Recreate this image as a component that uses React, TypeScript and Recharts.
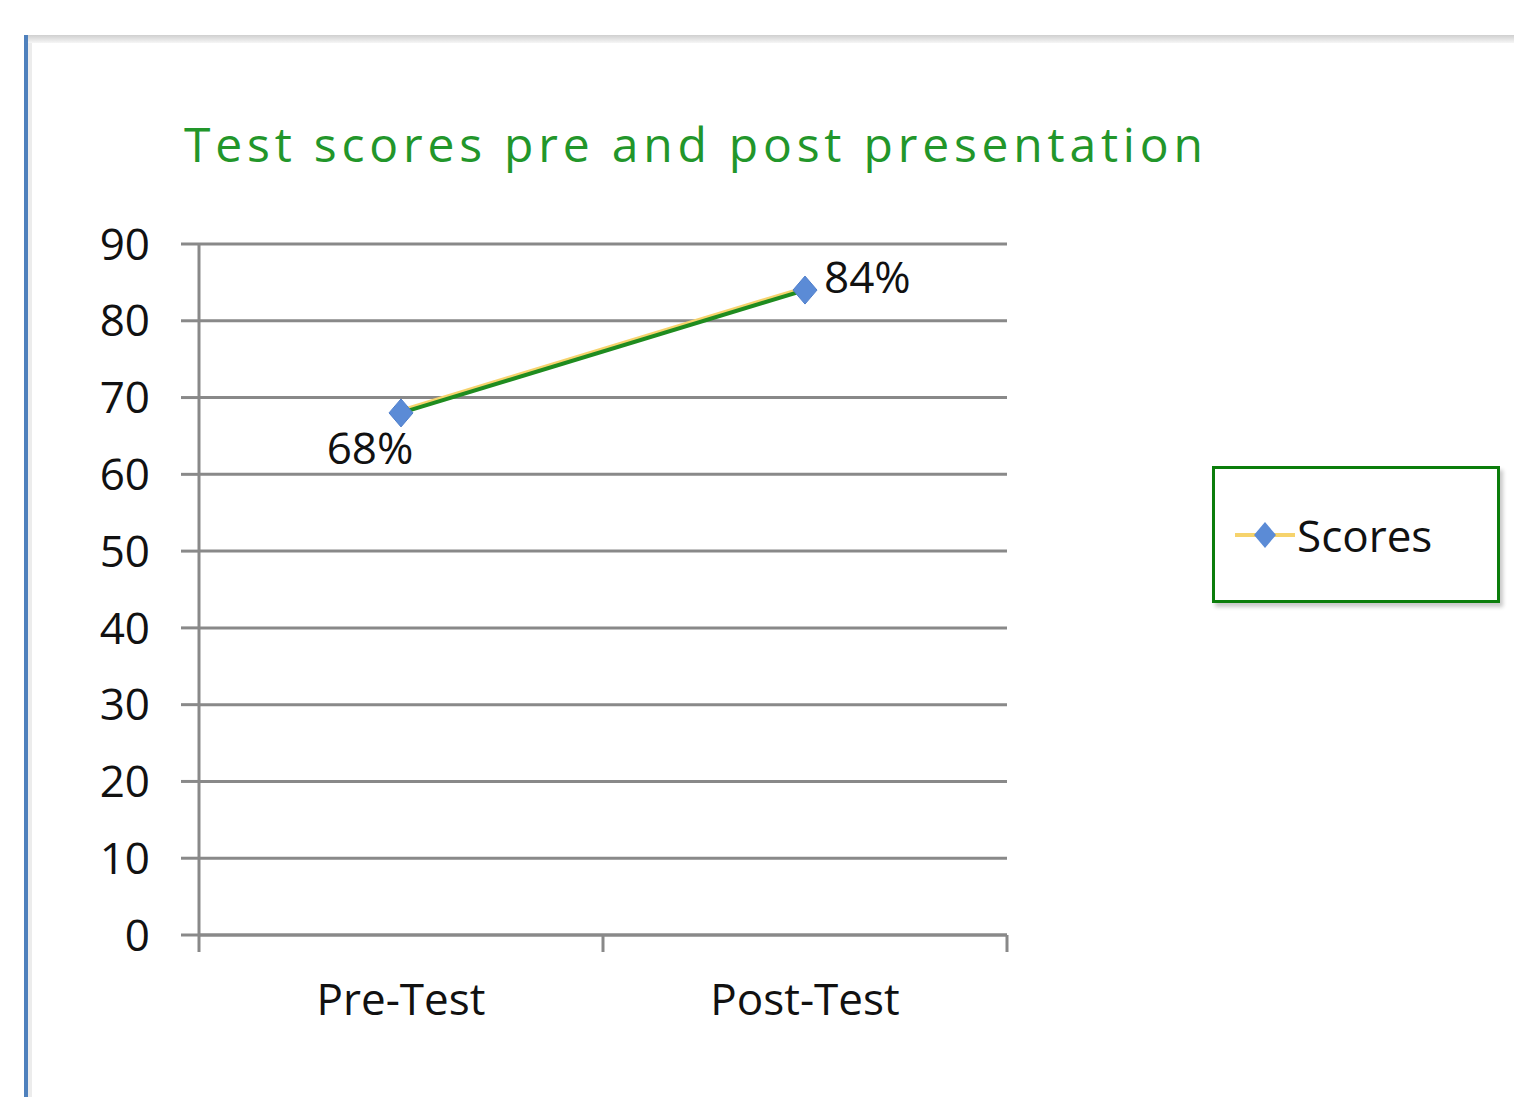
import * as React from 'react';
import { LineChart, Line, XAxis, YAxis, CartesianGrid, Legend } from 'recharts';

const categories = ['Pre-Test', 'Post-Test'];
const scores = [68, 84];
const yTicks = [0, 10, 20, 30, 40, 50, 60, 70, 80, 90];
const seriesName = 'Scores';
const title = 'Test scores pre and post presentation';

const data = categories.map((test, i) => ({ test, score: scores[i] }));

const FONT = '"Open Sans", "Noto Sans", sans-serif';
const GRID = '#898989';
const GREEN = '#1f8c1f';
const BLUE = '#5b8bd6';
const YELLOW = '#f6d36c';

function Diamond(props: any) {
  const { cx, cy } = props;
  if (cx == null || cy == null) return null;
  return (
    <polygon
      points={`${cx},${cy - 14} ${cx + 12},${cy} ${cx},${cy + 14} ${cx - 12},${cy}`}
      fill={BLUE}
      stroke="#4f7fcc"
      strokeWidth={1}
    />
  );
}

function ScoreLabel(props: any) {
  const { x, y, value, index } = props;
  const first = index === 0;
  return (
    <text
      x={first ? x - 31 : x + 19}
      y={first ? y + 51 : y + 3}
      textAnchor={first ? 'middle' : 'start'}
      fontSize={44}
      fontFamily={FONT}
      fill="#111"
    >
      {value}%
    </text>
  );
}

function XTick(props: any) {
  const { x, y, payload, index, visibleTicksCount } = props;
  const half = payload.offset || 0;
  const last = index === (visibleTicksCount ?? categories.length) - 1;
  return (
    <g>
      <line x1={x - half} x2={x - half} y1={y} y2={y + 17} stroke={GRID} strokeWidth={3} />
      {last && <line x1={x + half} x2={x + half} y1={y} y2={y + 17} stroke={GRID} strokeWidth={3} />}
      <text x={x} y={y + 80} textAnchor="middle" fontSize={44} fontFamily={FONT} fill="#111">
        {payload.value}
      </text>
    </g>
  );
}

function LegendBox() {
  return (
    <div
      style={{
        width: 282,
        height: 131,
        border: '3px solid #0b7d0b',
        background: '#fff',
        boxShadow: '3px 4px 4px #c8c8c8',
        display: 'flex',
        alignItems: 'center',
        boxSizing: 'content-box',
      }}
    >
      <svg width={64} height={40} style={{ marginLeft: 18 }}>
        <line x1={2} x2={62} y1={20} y2={20} stroke={YELLOW} strokeWidth={4} />
        <polygon points="32,7 43,20 32,33 21,20" fill={BLUE} />
      </svg>
      <span style={{ fontFamily: FONT, fontSize: 44, color: '#111', lineHeight: 1 }}>{seriesName}</span>
    </div>
  );
}

export default function App() {
  return (
    <div style={{ position: 'absolute', left: 0, top: 0, width: 1514, height: 1097, background: '#fff', overflow: 'hidden' }}>
      <style>{`.recharts-line-curve { filter: drop-shadow(-1px -2px 0 ${YELLOW}); }`}</style>
      <div style={{ position: 'absolute', left: 24, top: 35, right: 0, height: 8, background: 'linear-gradient(#cfcfcf, #f6f6f6)' }} />
      <div style={{ position: 'absolute', left: 24, top: 35, width: 4, bottom: 0, background: '#4f81bd' }} />
      <div style={{ position: 'absolute', left: 28, top: 43, width: 4, bottom: 0, background: '#ececec' }} />
      <div
        style={{
          position: 'absolute',
          left: 184,
          top: 115,
          fontFamily: FONT,
          fontSize: 48,
          letterSpacing: 4.8,
          color: '#22962a',
          whiteSpace: 'nowrap',
          lineHeight: 1.2,
        }}
      >
        {title}
      </div>
      <LineChart
        width={1514}
        height={1097}
        data={data}
        margin={{ top: 244, right: 507, bottom: 62, left: 119 }}
        style={{ position: 'absolute', left: 0, top: 0 }}
      >
        <CartesianGrid vertical={false} stroke={GRID} strokeWidth={3} />
        <XAxis
          dataKey="test"
          scale="band"
          height={100}
          axisLine={{ stroke: GRID, strokeWidth: 3 }}
          tickLine={false}
          tickSize={0}
          tickMargin={0}
          tick={<XTick />}
          interval={0}
        />
        <YAxis
          width={80}
          domain={[0, 90]}
          ticks={yTicks}
          interval={0}
          axisLine={{ stroke: GRID, strokeWidth: 3 }}
          tickLine={{ stroke: GRID, strokeWidth: 3 }}
          tickSize={18}
          tickMargin={31}
          tick={{ fontSize: 44, fontFamily: FONT, fill: '#111' }}
        />
        <Legend
          layout="vertical"
          align="center"
          verticalAlign="middle"
          content={() => <LegendBox />}
          wrapperStyle={{ left: 1212, top: 466, width: 288, height: 137 }}
        />
        <Line
          type="linear"
          dataKey="score"
          name={seriesName}
          stroke={GREEN}
          strokeWidth={4}
          dot={<Diamond />}
          activeDot={false}
          label={<ScoreLabel />}
          isAnimationActive={false}
        />
      </LineChart>
    </div>
  );
}
